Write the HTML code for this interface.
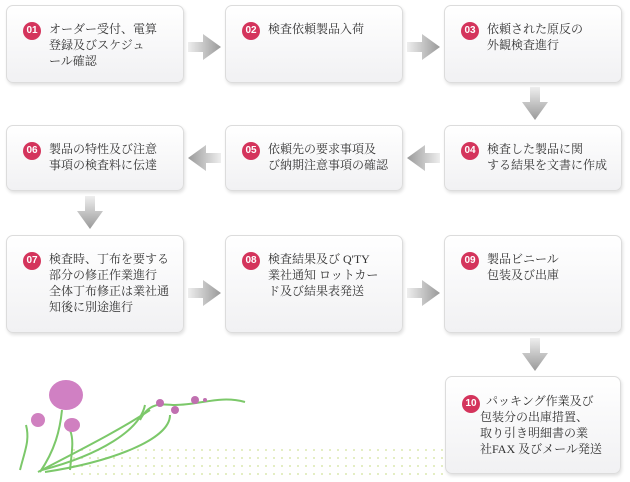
<!DOCTYPE html>
<html><head><meta charset="utf-8"><style>
body{margin:0;width:630px;height:482px;background:#fff;position:relative;overflow:hidden;font-family:"Liberation Serif","Noto Serif CJK SC",serif;}
.b{position:absolute;border:1px solid #dcdcdc;border-radius:7px;background:linear-gradient(#fff,#f1f1f3);box-shadow:1px 2px 3px rgba(0,0,0,.12);box-sizing:border-box;}
.n{position:absolute;left:16px;top:16px;width:18px;height:18px;border-radius:50%;background:#d4345c;color:#fff;font:bold 10px "Liberation Sans",sans-serif;text-align:center;line-height:18px;}
.t{position:absolute;left:42px;top:15px;font-size:12px;line-height:16px;color:#333;letter-spacing:0px;white-space:nowrap;}
svg.a{position:absolute}
</style></head><body>
<div class="b" style="left:6px;top:5px;width:178px;height:78px"><div class="n">01</div><div class="t">オーダー受付、電算<br>登録及びスケジュ<br>ール確認</div></div>
<div class="b" style="left:225px;top:5px;width:178px;height:78px"><div class="n">02</div><div class="t">検査依頼製品入荷</div></div>
<div class="b" style="left:444px;top:5px;width:178px;height:78px"><div class="n">03</div><div class="t">依頼された原反の<br>外観検査進行</div></div>
<div class="b" style="left:6px;top:125px;width:178px;height:66px"><div class="n">06</div><div class="t">製品の特性及び注意<br>事項の検査料に伝達</div></div>
<div class="b" style="left:225px;top:125px;width:178px;height:66px"><div class="n">05</div><div class="t">依頼先の要求事項及<br>び納期注意事項の確認</div></div>
<div class="b" style="left:444px;top:125px;width:178px;height:66px"><div class="n">04</div><div class="t">検査した製品に関<br>する結果を文書に作成</div></div>
<div class="b" style="left:6px;top:235px;width:178px;height:98px"><div class="n">07</div><div class="t">検査時、丁布を要する<br>部分の修正作業進行<br>全体丁布修正は業社通<br>知後に別途進行</div></div>
<div class="b" style="left:225px;top:235px;width:178px;height:98px"><div class="n">08</div><div class="t">検査結果及び Q'TY<br>業社通知 ロットカー<br>ド及び結果表発送</div></div>
<div class="b" style="left:444px;top:235px;width:178px;height:98px"><div class="n">09</div><div class="t">製品ビニール<br>包装及び出庫</div></div>
<div class="b" style="left:445px;top:376px;width:176px;height:98px"><div class="n" style="top:18px">10</div><div class="t" style="left:34px;top:16px">&nbsp;&nbsp;パッキング作業及び<br>包装分の出庫措置、<br>取り引き明細書の業<br>社FAX 及びメール発送</div></div>
<svg class="a" width="630" height="482" style="left:0;top:0">
<defs><linearGradient id="h" x1="0" x2="1"><stop offset="0" stop-color="#eee"/><stop offset="1" stop-color="#999"/></linearGradient>
<linearGradient id="hl" x1="1" x2="0"><stop offset="0" stop-color="#eee"/><stop offset="1" stop-color="#999"/></linearGradient>
<linearGradient id="v" x1="0" x2="0" y1="0" y2="1"><stop offset="0" stop-color="#eee"/><stop offset="1" stop-color="#999"/></linearGradient>
<pattern id="d" width="8" height="8" patternUnits="userSpaceOnUse"><circle cx="2" cy="2" r="1" fill="#dbe9b0"/></pattern></defs>
<g fill="url(#h)"><path d="M188 42h15v-8l18 13-18 13v-8h-15z"/><path d="M407 42h15v-8l18 13-18 13v-8h-15z"/><path d="M188 288h15v-8l18 13-18 13v-8h-15z"/><path d="M407 288h15v-8l18 13-18 13v-8h-15z"/></g>
<g fill="url(#hl)"><path d="M221 153h-15v-8l-18 13 18 13v-8h15z"/><path d="M440 153h-15v-8l-18 13 18 13v-8h15z"/></g>
<g fill="url(#v)"><path d="M530 87v15h-8l13 18 13-18h-8v-15z"/><path d="M85 196v15h-8l13 18 13-18h-8v-15z"/><path d="M530 338v15h-8l13 18 13-18h-8v-15z"/></g>
<rect x="70" y="448" width="375" height="30" fill="url(#d)"/>
<g stroke="#7cc86a" stroke-width="2" fill="none"><path d="M40 472 C55 450 60 430 62 410"/><path d="M38 472 C80 450 120 430 150 410"/><path d="M42 470 C100 455 140 430 145 405"/><path d="M45 472 C110 462 170 440 170 415"/><path d="M140 420 C150 400 165 405 175 405 200 405 220 395 245 402"/><path d="M20 470 C25 450 30 440 26 425"/><path d="M70 470 C72 450 74 440 70 430"/></g>
<ellipse cx="66" cy="395" rx="17" ry="15" fill="#c86ab8" opacity=".85"/>
<ellipse cx="38" cy="420" rx="7" ry="7" fill="#d080c0"/>
<ellipse cx="72" cy="425" rx="8" ry="7" fill="#d080c0"/>
<circle cx="160" cy="403" r="4" fill="#c070b0"/><circle cx="175" cy="410" r="4" fill="#c070b0"/><circle cx="195" cy="400" r="4" fill="#c070b0"/><circle cx="205" cy="400" r="2" fill="#c070b0"/>
</svg>
</body></html>
